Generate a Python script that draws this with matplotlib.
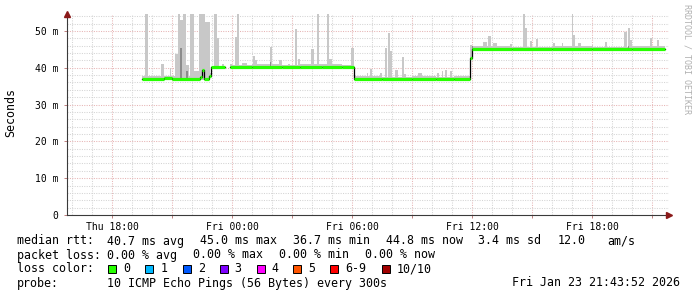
import numpy as np
import matplotlib
matplotlib.use("Agg")
import matplotlib.pyplot as plt
from matplotlib.patches import Rectangle

# ---------------- data (hours since Thu 00:00, values in ms) ----------------
x_start, x_end = 15.75, 45.85
tick_hours = [18, 24, 30, 36, 42]
tick_labels = ["Thu 18:00", "Fri 00:00", "Fri 06:00", "Fri 12:00", "Fri 18:00"]
y_ticks = [0, 10, 20, 30, 40, 50]
y_tick_labels = ["0", "10 m", "20 m", "30 m", "40 m", "50 m"]

# median rtt step breakpoints (value holds until next time; last is end)
med_t = [19.5, 20.6, 21.0, 22.4, 22.5, 22.6, 22.85, 22.95, 23.65, 23.9, 25.0,
         26.5, 27.4, 28.5, 29.5, 30.1, 31.5, 33.0, 34.2, 35.1, 35.9, 36.0,
         38.0, 40.0, 42.0, 44.0, 45.65]
med_v = [37.0, 37.1, 37.0, 37.6, 39.5, 37.0, 37.8, 40.2, np.nan, 40.1, 40.2,
         40.1, 40.3, 40.2, 40.1, 37.0, 36.9, 37.0, 36.9, 37.0, 42.6, 45.1,
         45.0, 45.1, 45.0, 45.1, 45.1]

# smoke spikes: start hour, end hour, top value (ms)
spike_t0 = [19.65, 20.45, 20.9, 21.15, 21.3, 21.4, 21.55, 21.7, 21.9, 22.1,
            22.35, 22.65, 23.1, 23.25, 23.5, 23.9, 24.15, 24.25, 24.5, 25.05,
            25.15, 25.55, 25.9, 26.35, 26.8, 27.15, 27.3, 27.95, 28.25, 28.35,
            28.75, 28.85, 29.25, 29.95, 30.75, 30.9, 31.4, 31.65, 31.8, 31.9,
            32.15, 32.5, 32.6, 33.3, 34.25, 34.5, 34.65, 34.9, 35.9, 36.55,
            36.8, 37.05, 37.9, 38.55, 38.65, 38.9, 39.2, 40.05, 40.5, 41.0,
            41.05, 41.3, 42.0, 42.65, 43.6, 43.8, 43.9, 44.9, 45.25]
spike_t1 = [19.8, 20.6, 20.95, 21.3, 21.4, 21.55, 21.7, 21.85, 22.1, 22.35,
            22.65, 22.9, 23.25, 23.35, 23.6, 24.0, 24.25, 24.35, 24.75, 25.15,
            25.25, 25.75, 26.0, 26.5, 26.9, 27.25, 27.4, 28.1, 28.35, 28.55,
            28.85, 29.0, 29.5, 30.1, 30.8, 31.0, 31.5, 31.75, 31.9, 32.0,
            32.3, 32.6, 32.7, 33.5, 34.35, 34.55, 34.75, 35.0, 36.0, 36.75,
            36.95, 37.25, 38.0, 38.65, 38.75, 39.0, 39.3, 40.15, 40.55, 41.05,
            41.15, 41.45, 42.05, 42.75, 43.75, 43.9, 44.0, 45.0, 45.35]
spike_top = [54.6, 41.0, 39.8, 43.8, 54.6, 53.0, 54.6, 40.8, 54.6, 39.0,
             54.6, 52.5, 54.6, 48.2, 40.9, 41.0, 48.4, 54.6, 41.3, 43.2,
             42.0, 41.0, 45.7, 42.0, 41.0, 50.5, 42.5, 45.1, 54.6, 41.0,
             54.6, 42.4, 41.0, 45.4, 38.6, 39.7, 38.6, 45.4, 49.5, 44.6,
             39.4, 42.9, 38.3, 38.6, 38.6, 39.0, 39.4, 39.0, 46.2, 47.0,
             48.6, 46.7, 46.5, 54.6, 50.8, 47.3, 47.8, 46.7, 46.7, 54.6,
             49.0, 46.8, 46.3, 47.0, 49.7, 50.8, 47.5, 48.0, 47.5]

# darker smoke parts
dark_t0 = [21.4, 21.7, 25.9, 36.0, 43.8]
dark_t1 = [21.5, 21.8, 25.95, 36.05, 43.85]
dark_top = [45.3, 39.0, 41.5, 46.0, 46.0]

loss_labels = ["0", "1", "2", "3", "4", "5", "6-9", "10/10"]
loss_colors = ["#26ff00", "#00b8ff", "#0059ff", "#7e00ff", "#ff00ff",
               "#ff5500", "#ff0000", "#a10000"]

# ---------------- figure ----------------
W, H = 697, 297
plt.rcParams["font.family"] = ["DejaVu Sans Mono"]
fig = plt.figure(figsize=(W / 100, H / 100), dpi=100)
fig.patch.set_facecolor("white")
ax = fig.add_axes([67 / W, 1 - 215 / H, 602 / W, 201 / H])
ax.set_facecolor("white")
ax.set_xlim(x_start, x_end)
ax.set_ylim(0, 54.6)

minor_c = "#d4d4d4"
major_c = "#e6b4b4"
dots = (0, (1, 1.3))
for h in np.arange(16, 46, 1):
    c = major_c if h % 3 == 0 else minor_c
    ax.axvline(h, color=c, lw=0.75, ls=dots, zorder=0)
for v in np.arange(2, 55, 2):
    c = major_c if v % 10 == 0 else minor_c
    ax.axhline(v, color=c, lw=0.75, ls=dots, zorder=0)

mt = np.array(med_t)
mv = np.array(med_v)


def med_at(t):
    i = np.searchsorted(mt, t, side="right") - 1
    i = np.clip(i, 0, len(mv) - 1)
    v = mv[i]
    return np.where(np.isnan(v), mv[np.clip(i - 1, 0, None)], v)


# smoke band around the median
ax.fill_between(mt, mv - 0.2, mv + 0.7, step="post", color="#c8c8c8", lw=0, zorder=1)
# smoke spikes
s0 = np.array(spike_t0)
s1 = np.array(spike_t1)
base = med_at(s0) - 0.3
ax.bar(s0, np.array(spike_top) - base, width=s1 - s0, bottom=base, align="edge",
       color="#c8c8c8", lw=0, zorder=1)
d0 = np.array(dark_t0)
d1 = np.array(dark_t1)
dbase = med_at(d0) - 0.3
ax.bar(d0, np.array(dark_top) - dbase, width=d1 - d0, bottom=dbase, align="edge",
       color="#8c8c8c", lw=0, zorder=1)

# median: black step line with green segments on top
ax.step(mt, mv, where="post", color="black", lw=0.9, zorder=2)
ax.hlines(mv[:-1], mt[:-1], mt[1:], color=loss_colors[0], lw=2.3, zorder=3)

# axes styling
for s in ["top", "right"]:
    ax.spines[s].set_visible(False)
for s in ["left", "bottom"]:
    ax.spines[s].set_color("#3a3a3a")
    ax.spines[s].set_linewidth(0.8)
ax.set_xticks(tick_hours)
ax.set_xticklabels(tick_labels)
ax.set_xticks(np.arange(18, 46, 3), minor=True)
ax.set_yticks(y_ticks)
ax.set_yticklabels(y_tick_labels)
ax.tick_params(axis="x", which="both", length=2, width=0.7, color="#c08080",
               labelsize=7, pad=3)
ax.tick_params(axis="y", length=2, width=0.7, color="#c08080", labelsize=7, pad=4)

# arrows
ax.plot([0], [1.0], marker="^", color="#8b1a1a", ms=4, transform=ax.transAxes,
        clip_on=False, zorder=5)
ax.plot([1.0], [0], marker=">", color="#8b1a1a", ms=4, transform=ax.transAxes,
        clip_on=False, zorder=5)

fs = 8.4


def ftext(x, y, s, **kw):
    kw.setdefault("fontsize", fs)
    kw.setdefault("va", "center")
    fig.text(x / W, 1 - y / H, s, **kw)


ftext(11, 113, "Seconds", rotation=90, ha="center")
ftext(687, 59, "RRDTOOL / TOBI OETIKER", rotation=270, ha="center",
      fontsize=6, color="#b0b0b0")

y1, y2, y3, y4 = 241, 255, 269, 283
ftext(17, y1, "median rtt:")
for xx, s in zip([107, 200, 293, 386, 478, 558, 607],
                 ["40.7 ms avg", "45.0 ms max", "36.7 ms min", "44.8 ms now",
                  "3.4 ms sd", "12.0", "am/s"]):
    ftext(xx, y1, s)
ftext(17, y2, "packet loss:")
for xx, s in zip([107, 193, 279, 365],
                 ["0.00 % avg", "0.00 % max", "0.00 % min", "0.00 % now"]):
    ftext(xx, y2, s)
ftext(17, y3, "loss color:")
box_x = [108, 145.3, 182.7, 219.5, 256.5, 293.3, 330, 381.7]
for bx, lab, col in zip(box_x, loss_labels, loss_colors):
    fig.add_artist(Rectangle((bx / W, 1 - 273 / H), 8 / W, 8 / H,
                             transform=fig.transFigure, facecolor=col,
                             edgecolor="black", lw=0.7))
    ftext(bx + 15, y3, lab)
ftext(17, y4, "probe:")
ftext(107, y4, "10 ICMP Echo Pings (56 Bytes) every 300s")
ftext(680, y4, "Fri Jan 23 21:43:52 2026", ha="right")

fig.savefig("out.png", dpi=100, facecolor="white")
